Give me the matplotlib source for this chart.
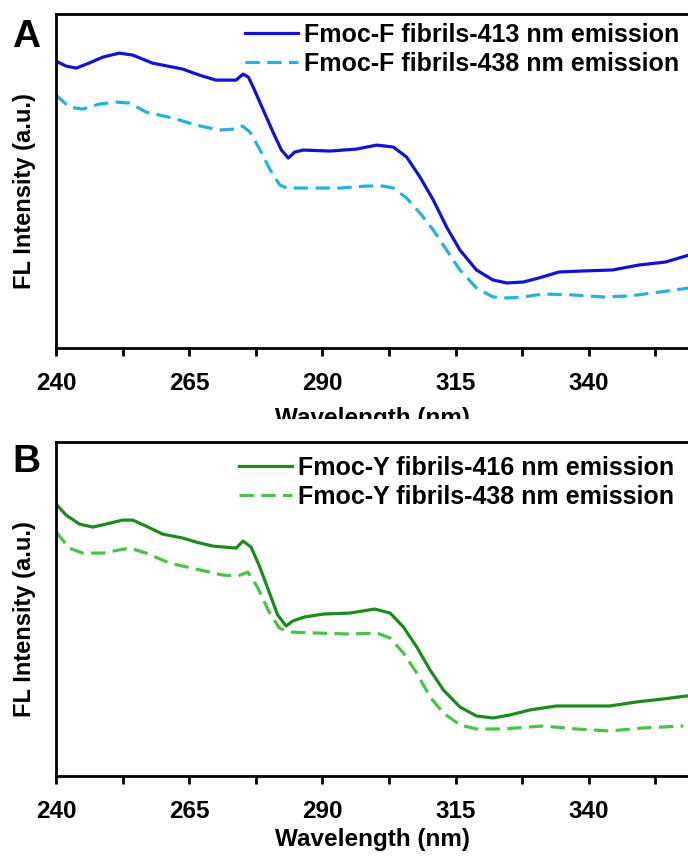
import numpy as np
import matplotlib.pyplot as plt
from matplotlib.patches import Rectangle

plt.rcParams['font.family'] = ['Liberation Sans', 'DejaVu Sans']
plt.rcParams['font.weight'] = 'bold'

# Panel A: Fmoc-F fibrils (intensity in arbitrary units)
wl_f413 = [240, 241.9, 243.8, 246.2, 248.8, 251.9, 254.4, 258.1, 261.9, 263.8, 266.9, 270,
           273.8, 275.1, 276.1, 277, 278.9, 280.8, 282.3, 283.6, 284.8, 286.4, 291.4,
           296.4, 300.2, 303.3, 305.8, 308.3, 310.8, 313.3, 315.8, 318.9, 322, 324.6,
           327.7, 330.6, 334.4, 338.7, 344.4, 349.4, 354.4, 358.8]
int_f413 = [287, 282, 280, 285, 291, 295, 293, 285, 281, 279, 273, 268,
            268, 274, 271, 261, 238, 215, 198, 190, 196, 198, 197,
            199, 203, 201, 191, 171, 148, 121, 98, 78, 68, 65,
            66, 70, 76, 77, 78, 83, 86, 93]

wl_f438 = [240, 242.5, 245, 248.1, 251.3, 253.8, 256.9, 261.9, 266.3, 270.6, 273.8,
           275, 276.4, 278.3, 280.2, 282, 283.3, 288.3, 293.3, 298.3, 301.4, 303.3,
           305.8, 308.3, 310.8, 313.3, 315.8, 318.9, 322, 324.6, 327.7, 331.4, 337.1,
           342.7, 347.7, 353.3, 358.8]
int_f438 = [253, 241, 239, 244, 246, 245, 236, 230, 223, 218, 219,
            222, 216, 198, 178, 163, 160, 160, 160, 162, 162, 160,
            150, 135, 118, 98, 78, 60, 51, 50, 51, 54, 53,
            51, 52, 56, 60]

# Panel B: Fmoc-Y fibrils
wl_y416 = [240, 241.9, 244.4, 246.9, 249.4, 252.5, 254.4, 256.9, 260, 263.8, 266.3,
           269.4, 273.8, 275.1, 276.6, 278.1, 280, 281.6, 283.2, 284.4, 286.6, 290.2,
           295.2, 299.8, 302.7, 305.2, 307.7, 310.2, 312.7, 315.8, 318.9, 322, 325.2,
           328.9, 333.9, 338.9, 343.9, 348.9, 353.9, 358.3]
int_y416 = [272, 261, 252, 249, 252, 256, 256, 250, 242, 238, 234,
            230, 228, 235, 229, 211, 184, 161, 150, 155, 159, 162,
            163, 167, 163, 149, 129, 106, 86, 69, 60, 58, 61,
            66, 70, 70, 70, 74, 77, 80]

wl_y438 = [240, 242.5, 245, 248.8, 253.8, 256.9, 261.3, 266.3, 271.3, 274.1, 276,
           277.8, 280, 281.9, 283.8, 288.9, 295.2, 300.2, 302.7, 305.2, 307.7, 310.2,
           312.7, 315.8, 318.9, 323.9, 331.4, 337.7, 343.9, 350.2, 357.7]
int_y438 = [244, 228, 223, 223, 228, 223, 213, 207, 201, 200, 204,
            189, 164, 148, 144, 143, 142, 143, 138, 123, 103, 79,
            63, 51, 47, 47, 50, 47, 45, 48, 50]

xticks = [240, 265, 290, 315, 340]
xminor = [252.5, 277.5, 302.5, 327.5, 352.5]

panels = [
    dict(label='A', bottom=0.5935, letter_y=0.9455, labelpad=9, lg_pad=0.0, lg_border=0.35,
         series=[(wl_f413, int_f413, '#1212d4', '-', 'Fmoc-F fibrils-413 nm emission'),
                 (wl_f438, int_f438, '#24b2e4', '--', 'Fmoc-F fibrils-438 nm emission')]),
    dict(label='B', bottom=0.0935, letter_y=0.4486, labelpad=4, lg_pad=0.15, lg_border=0.4,
         series=[(wl_y416, int_y416, '#1b8c1b', '-', 'Fmoc-Y fibrils-416 nm emission'),
                 (wl_y438, int_y438, '#46c646', '--', 'Fmoc-Y fibrils-438 nm emission')]),
]

fig = plt.figure(figsize=(6.88, 8.56), dpi=100)

for p in panels:
    ax = fig.add_axes([0.0814, p['bottom'], 0.9186, 0.39])
    for wl, val, col, ls, lab in p['series']:
        if ls == '--':
            ax.plot(wl, val, color=col, lw=2.3, ls=(0, (4.5, 2.3)), label=lab)
        else:
            ax.plot(wl, val, color=col, lw=2.3, ls=ls, label=lab)
    ax.set_xlim(240, 358.6)
    ax.set_ylim(0, 334)
    ax.set_xticks(xticks)
    ax.set_xticks(xminor, minor=True)
    ax.tick_params(axis='x', which='both', direction='out', width=2, length=6,
                   labelsize=17.5, pad=11)
    ax.set_yticks([])
    ax.spines['right'].set_visible(False)
    for s in ['left', 'top', 'bottom']:
        ax.spines[s].set_linewidth(2)
    ax.set_xlabel('Wavelength (nm)', fontsize=17.5, fontweight='bold', labelpad=p['labelpad'])
    ax.set_ylabel('FL Intensity (a.u.)', fontsize=17, fontweight='bold')
    ax.yaxis.set_label_coords(-0.031, 0.47)
    ax.legend(loc='upper right', frameon=False, handlelength=2.1,
              handletextpad=0.25, borderaxespad=p['lg_pad'], borderpad=p['lg_border'],
              labelspacing=0.2, prop={'weight': 'bold', 'size': 18})
    fig.text(0.018, p['letter_y'], p['label'], fontsize=28,
             fontweight='bold', va='baseline', ha='left')

# the xlabel of panel A is cut off by panel B in the source figure
fig.patches.append(Rectangle((0, 0.487), 1, 0.0235, transform=fig.transFigure,
                             facecolor='white', edgecolor='none', zorder=10))

fig.savefig('out.png', dpi=100)
